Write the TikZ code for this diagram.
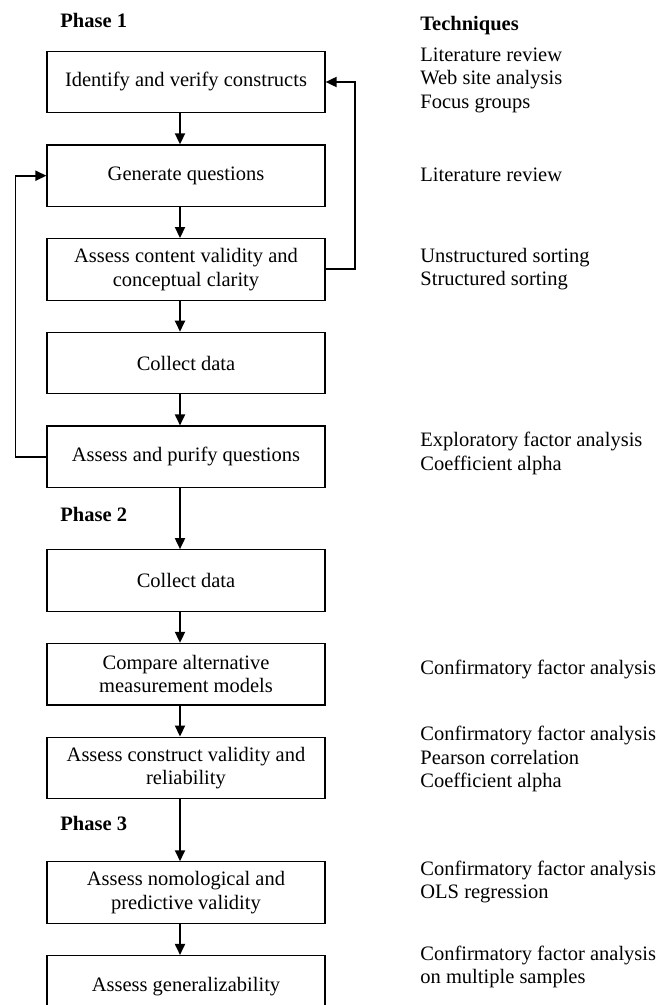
\documentclass[tikz,border=0pt]{standalone}
\usepackage{fontspec}
\setmainfont{Liberation Serif}
\usetikzlibrary{positioning,arrows.meta}
\begin{document}
\begin{tikzpicture} [
        x=0.5pt, y=-0.5pt,
        font=\fontsize{10.25}{11.75}\selectfont,
        stage/.style={draw=black, rectangle, line width=0.6pt, minimum width=139pt, minimum height=30.75pt, align=center, inner sep=2pt},
        tech/.style={anchor=west, align=left, inner sep=0pt},
        phase/.style={anchor=west, inner sep=0pt, font=\fontsize{10.25}{11.75}\selectfont\bfseries},
        flow/.style={-{Triangle[length=5.5pt,width=5pt]}, line width=0.9pt},
        node distance=15.5pt ]
    \useasboundingbox (0,0) rectangle (657,1005);
    % phase 1
    \node[phase] (ph1) at (60,20) {Phase 1};
    \node[phase] (tq) at (420,26) {Techniques};
    \node[stage] (s1) at (186,82) {Identify and verify constructs};
    \node[stage, below=of s1] (s2) {Generate questions};
    \node[stage, below=of s2] (s3) {Assess content validity and\\conceptual clarity};
    \node[stage, below=of s3] (s4) {Collect data};
    \node[stage, below=of s4] (s5) {Assess and purify questions};
    % phase 2
    \node[phase] (ph2) at (60,514) {Phase 2};
    \node[stage, below=30.5pt of s5] (s6) {Collect data};
    \node[stage, below=of s6] (s7) {Compare alternative\\measurement models};
    \node[stage, below=of s7] (s8) {Assess construct validity and\\reliability};
    % phase 3
    \node[phase] (ph3) at (60,823) {Phase 3};
    \node[stage, below=31pt of s8] (s9) {Assess nomological and\\predictive validity};
    \node[stage, below=of s9] (s10) {Assess generalizability};
    % techniques
    \node[tech] (t1) at (420,80) {Literature review\\Web site analysis\\Focus groups};
    \node[tech] (t2) at (420,175) {Literature review};
    \node[tech] (t3) at (420,269) {Unstructured sorting\\Structured sorting};
    \node[tech] (t5) at (420,453.5) {Exploratory factor analysis\\Coefficient alpha};
    \node[tech] (t7) at (420,669) {Confirmatory factor analysis};
    \node[tech] (t8) at (420,759) {Confirmatory factor analysis\\Pearson correlation\\Coefficient alpha};
    \node[tech] (t9) at (420,882) {Confirmatory factor analysis\\OLS regression};
    \node[tech] (t10) at (420,967) {Confirmatory factor analysis\\on multiple samples};
    % arrows
    \draw[flow] ([xshift=-3pt]s1.south) -- ([xshift=-3pt]s2.north);
    \draw[flow] ([xshift=-3pt]s2.south) -- ([xshift=-3pt]s3.north);
    \draw[flow] ([xshift=-3pt]s3.south) -- ([xshift=-3pt]s4.north);
    \draw[flow] ([xshift=-3pt]s4.south) -- ([xshift=-3pt]s5.north);
    \draw[flow] ([xshift=-3pt]s5.south) -- ([xshift=-3pt]s6.north);
    \draw[flow] ([xshift=-3pt]s6.south) -- ([xshift=-3pt]s7.north);
    \draw[flow] ([xshift=-3pt]s7.south) -- ([xshift=-3pt]s8.north);
    \draw[flow] ([xshift=-3pt]s8.south) -- ([xshift=-3pt]s9.north);
    \draw[flow] ([xshift=-3pt]s9.south) -- ([xshift=-3pt]s10.north);
    % feedback loops
    \draw[flow] (s3.east) -- ++(29,0) |- (s1.east);
    \draw[flow] (s5.west) -- ++(-31,0) |- (s2.west);
\end{tikzpicture}
\end{document}
